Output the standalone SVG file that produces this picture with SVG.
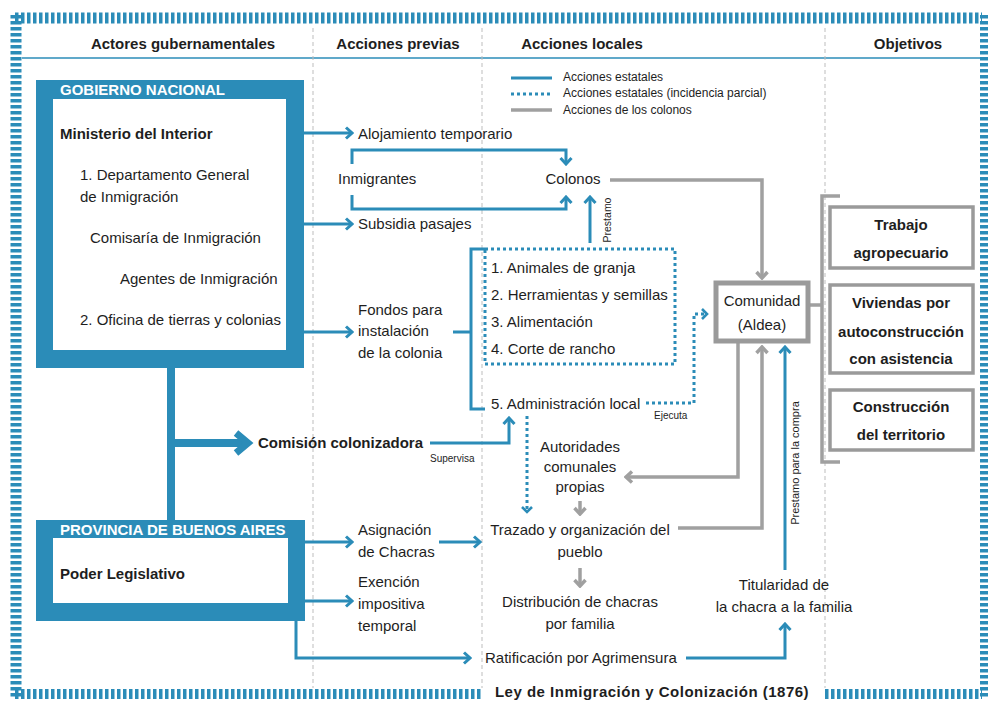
<svg xmlns="http://www.w3.org/2000/svg" width="988" height="702" viewBox="0 0 988 702">
<style>
text{font-family:"Liberation Sans",Arial,sans-serif;fill:#1e1e1e;font-size:15px}
.b{font-weight:bold}
.hd{font-weight:bold;fill:#fff}
.m{text-anchor:middle}
.sm{font-size:10px}
.lg{font-size:12px}
.band{stroke:#2b8cb8;fill:none;stroke-dasharray:3.5 2.5}
.sep{stroke:#bdbdbd;stroke-width:1;stroke-dasharray:4 3;fill:none}
.bl{stroke:#2b8cb8;stroke-width:3;fill:none}
.bt{stroke:#2b8cb8;stroke-width:8;fill:none}
.dt{stroke:#2b8cb8;stroke-width:3;fill:none;stroke-dasharray:3 3}
.gr{stroke:#a0a0a0;stroke-width:3.5;fill:none}
.obj{fill:#fff;stroke:#9a9a9a;stroke-width:3.5}
</style>
<defs>
<marker id="ab" markerUnits="userSpaceOnUse" viewBox="-10 -8 12 16" markerWidth="12" markerHeight="16" refX="0" refY="0" orient="auto">
<path d="M-6,-5.5 L0,0 L-6,5.5" fill="none" stroke="#2b8cb8" stroke-width="3"/>
</marker>
<marker id="ag" markerUnits="userSpaceOnUse" viewBox="-10 -8 12 16" markerWidth="12" markerHeight="16" refX="0" refY="0" orient="auto">
<path d="M-6,-5.5 L0,0 L-6,5.5" fill="none" stroke="#a0a0a0" stroke-width="3.5"/>
</marker>
<marker id="ad" markerUnits="userSpaceOnUse" viewBox="-10 -8 12 16" markerWidth="12" markerHeight="16" refX="0" refY="0" orient="auto">
<path d="M-5,-5 L0,0 L-5,5" fill="none" stroke="#2b8cb8" stroke-width="2.6"/>
</marker>
</defs>
<rect width="988" height="702" fill="#fff"/>

<g id="frame">
<line class="band" x1="15" y1="18" x2="982" y2="18" stroke-width="11"/>
<line class="band" x1="16" y1="15" x2="16" y2="698" stroke-width="11"/>
<line class="band" x1="984" y1="15" x2="984" y2="698" stroke-width="8"/>
<line class="band" x1="15" y1="694" x2="482" y2="694" stroke-width="10"/>
<line class="band" x1="825" y1="694" x2="982" y2="694" stroke-width="10"/>
<line x1="22" y1="58" x2="982" y2="58" stroke="#2b8cb8" stroke-width="1.5"/>
<line class="sep" x1="313" y1="28" x2="313" y2="688"/>
<line class="sep" x1="482" y1="28" x2="482" y2="688"/>
<line class="sep" x1="825" y1="28" x2="825" y2="688"/>
<text class="b m" x="183" y="49">Actores gubernamentales</text>
<text class="b m" x="398" y="49">Acciones previas</text>
<text class="b m" x="582" y="49">Acciones locales</text>
<text class="b m" x="908" y="49">Objetivos</text>
<text class="b m" x="652" y="697" style="letter-spacing:0.5px">Ley de Inmigración y Colonización (1876)</text>
</g>

<g id="legend">
<line class="bl" x1="511" y1="78" x2="552" y2="78"/>
<line class="dt" x1="511" y1="94" x2="552" y2="94"/>
<line class="gr" x1="511" y1="110" x2="552" y2="110"/>
<text class="lg" x="563" y="81">Acciones estatales</text>
<text class="lg" x="563" y="97">Acciones estatales (incidencia parcial)</text>
<text class="lg" x="563" y="114">Acciones de los colonos</text>
</g>

<g id="connectors">
<path class="bt" d="M171,368 V520 M171,443 H244"/>
<polyline points="236,433 248,443 236,453" fill="none" stroke="#2b8cb8" stroke-width="7"/>
<path class="bl" d="M304,133 H352" marker-end="url(#ab)"/>
<path class="bl" d="M304,224 H352" marker-end="url(#ab)"/>
<path class="bl" d="M304,332 H352" marker-end="url(#ab)"/>
<path class="bl" d="M352,164 V150 H566 V164" marker-end="url(#ab)"/>
<path class="bl" d="M352,195 V209 H566 V197" marker-end="url(#ab)"/>
<path class="bl" d="M590,243 V197" marker-end="url(#ab)"/>
<path class="bl" d="M485,249 H471 V409 H485 M453,332 H471"/>
<path class="bl" d="M430,443 H509 V418" marker-end="url(#ab)"/>
<path class="bl" d="M305,542 H352" marker-end="url(#ab)"/>
<path class="bl" d="M439,542 H480" marker-end="url(#ab)"/>
<path class="bl" d="M305,601 H352" marker-end="url(#ab)"/>
<path class="bl" d="M296,621 V658 H470" marker-end="url(#ab)"/>
<path class="bl" d="M686,658 H785 V624" marker-end="url(#ab)"/>
<path class="bl" d="M785,570 V347" marker-end="url(#ab)"/>
<path class="dt" d="M646,403 H694 V314 H707" marker-end="url(#ad)"/>
<path class="dt" d="M527,416 V512" marker-end="url(#ad)"/>
<path class="gr" d="M610,180 H762 V278" marker-end="url(#ag)"/>
<path class="gr" d="M738,342 V477 H626" marker-end="url(#ag)"/>
<path class="gr" d="M678,528 H762 V347" marker-end="url(#ag)"/>
<path class="gr" d="M580,501 V514" marker-end="url(#ag)"/>
<path class="gr" d="M580,568 V586" marker-end="url(#ag)"/>
<path class="gr" d="M840,196 H822 V462 H840 M808,305 H822"/>
<text class="sm m" transform="translate(611,220) rotate(-90)" style="font-size:10.5px">Prestamo</text>
<text class="m" transform="translate(799,463) rotate(-90)" style="font-size:11px">Prestamo para la compra</text>
<text class="sm" x="430" y="462">Supervisa</text>
<text class="sm" x="654" y="419">Ejecuta</text>
</g>

<g id="gobierno-nacional">
<rect x="36" y="80" width="268" height="288" fill="#2b8cb8"/>
<rect x="53" y="99" width="233" height="251" fill="#fff"/>
<text class="hd" x="60" y="95">GOBIERNO NACIONAL</text>
<text class="b" x="60" y="139">Ministerio del Interior</text>
<text x="80" y="180">1. Departamento General</text>
<text x="80" y="202">de Inmigración</text>
<text x="90" y="243">Comisaría de Inmigración</text>
<text x="120" y="284">Agentes de Inmigración</text>
<text x="80" y="325">2. Oficina de tierras y colonias</text>
</g>

<g id="provincia-bsas">
<rect x="36" y="520" width="269" height="101" fill="#2b8cb8"/>
<rect x="53" y="538" width="235" height="65" fill="#fff"/>
<text class="hd" x="60" y="535">PROVINCIA DE BUENOS AIRES</text>
<text class="b" x="60" y="579">Poder Legislativo</text>
</g>

<g id="comision"><text class="b" x="258" y="448">Comisión colonizadora</text></g>
<g id="alojamiento"><text x="358" y="139">Alojamiento temporario</text></g>
<g id="inmigrantes"><text x="338" y="184">Inmigrantes</text></g>
<g id="colonos"><text class="m" x="573" y="184">Colonos</text></g>
<g id="subsidia"><text x="358" y="229">Subsidia pasajes</text></g>
<g id="fondos">
<text x="358" y="315">Fondos para</text>
<text x="358" y="336">instalación</text>
<text x="358" y="358">de la colonia</text>
</g>
<g id="items">
<rect x="485" y="249" width="190" height="115" class="dt"/>
<text x="491" y="273">1. Animales de granja</text>
<text x="491" y="300">2. Herramientas y semillas</text>
<text x="491" y="327">3. Alimentación</text>
<text x="491" y="354">4. Corte de rancho</text>
</g>
<g id="administracion"><text x="491" y="409">5. Administración local</text></g>
<g id="autoridades">
<text class="m" x="580" y="452">Autoridades</text>
<text class="m" x="580" y="472">comunales</text>
<text class="m" x="580" y="492">propias</text>
</g>
<g id="trazado">
<text class="m" x="580" y="535">Trazado y organización del</text>
<text class="m" x="580" y="557">pueblo</text>
</g>
<g id="distribucion">
<text class="m" x="580" y="607">Distribución de chacras</text>
<text class="m" x="580" y="629">por familia</text>
</g>
<g id="ratificacion"><text x="485" y="663">Ratificación por Agrimensura</text></g>
<g id="titularidad">
<text class="m" x="784" y="590">Titularidad de</text>
<text class="m" x="784" y="612">la chacra a la familia</text>
</g>
<g id="asignacion">
<text x="358" y="535">Asignación</text>
<text x="358" y="557">de Chacras</text>
</g>
<g id="exencion">
<text x="358" y="587">Exención</text>
<text x="358" y="609">impositiva</text>
<text x="358" y="631">temporal</text>
</g>
<g id="comunidad">
<rect x="716" y="283" width="92" height="58" fill="#fff" stroke="#9a9a9a" stroke-width="5"/>
<text class="m" x="762" y="306">Comunidad</text>
<text class="m" x="762" y="330">(Aldea)</text>
</g>
<g id="obj-trabajo">
<rect class="obj" x="830" y="207" width="143" height="61"/>
<text class="b m" x="901" y="230">Trabajo</text>
<text class="b m" x="901" y="258">agropecuario</text>
</g>
<g id="obj-viviendas">
<rect class="obj" x="830" y="285" width="143" height="88"/>
<text class="b m" x="901" y="308">Viviendas por</text>
<text class="b m" x="901" y="337">autoconstrucción</text>
<text class="b m" x="901" y="364">con asistencia</text>
</g>
<g id="obj-construccion">
<rect class="obj" x="830" y="390" width="143" height="60"/>
<text class="b m" x="901" y="412">Construcción</text>
<text class="b m" x="901" y="440">del territorio</text>
</g>
</svg>
